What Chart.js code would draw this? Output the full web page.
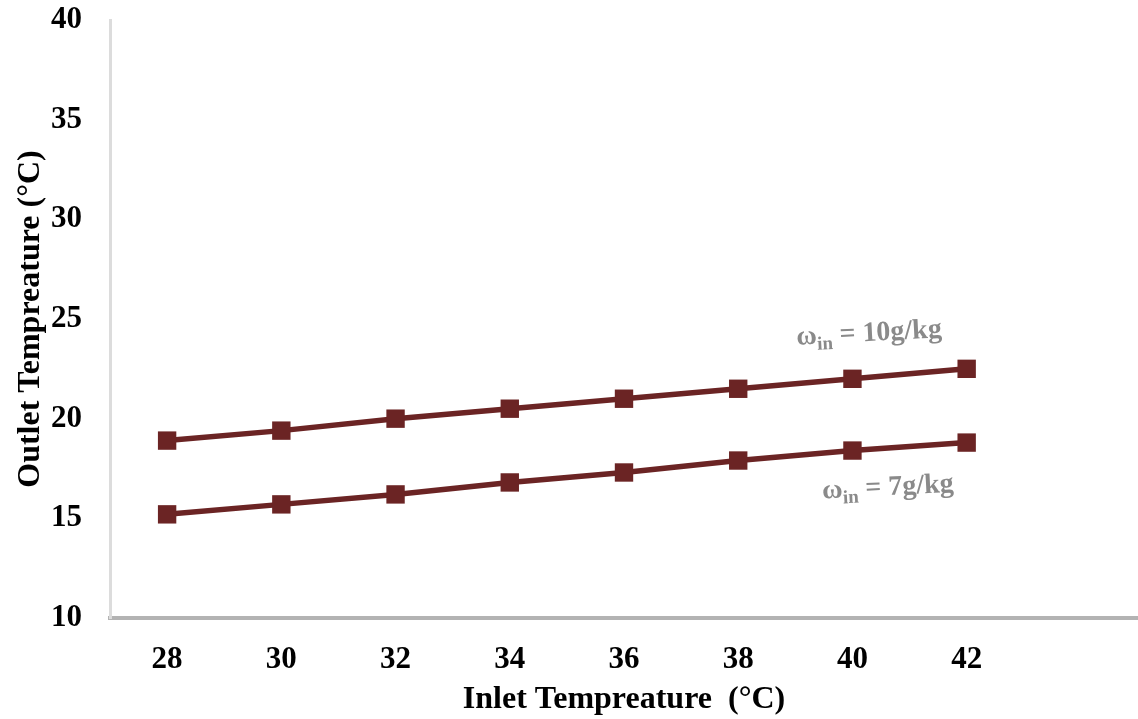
<!DOCTYPE html>
<html>
<head>
<meta charset="utf-8">
<script src="https://cdn.jsdelivr.net/npm/chart.js@4"></script>
<style>
html,body{margin:0;padding:0;background:#fff;}
#wrap{width:1138px;height:719px;position:relative;}
</style>
</head>
<body>
<div id="wrap"><canvas id="c" width="1138" height="719"></canvas></div>
<script>
const inletTemps = [28, 30, 32, 34, 36, 38, 40, 42];
const outlet10 = [18.9, 19.4, 20.0, 20.5, 21.0, 21.5, 22.0, 22.5];
const outlet7 = [15.2, 15.7, 16.2, 16.8, 17.3, 17.9, 18.4, 18.8];
const yTicks = [10, 15, 20, 25, 30, 35, 40];
const seriesLabels = ['10g/kg', '7g/kg'];

const FONT = '"Liberation Serif", "Times New Roman", serif';
const LINE_COLOR = '#6b2424';

const labelPlugin = {
  id: 'seriesLabels',
  afterDatasetsDraw(chart) {
    const ctx = chart.ctx;
    const xs = chart.scales.x, ys = chart.scales.y;
    const items = [
      {text: seriesLabels[0], x: xs.getPixelForValue(40.29), y: ys.getPixelForValue(24.3)},
      {text: seriesLabels[1], x: xs.getPixelForValue(40.62), y: ys.getPixelForValue(16.57)}
    ];
    ctx.save();
    ctx.fillStyle = '#8a8a8a';
    items.forEach(it => {
      ctx.save();
      ctx.translate(it.x, it.y);
      ctx.rotate(-3 * Math.PI / 180);
      const big = 'bold 28px ' + FONT, small = 'bold 19px ' + FONT;
      ctx.font = big; const wOmega = ctx.measureText('ω').width;
      ctx.font = small; const wIn = ctx.measureText('in').width;
      ctx.font = big; const wRest = ctx.measureText(' = ' + it.text).width;
      const total = wOmega + wIn + wRest;
      let x0 = -total / 2;
      ctx.textBaseline = 'alphabetic';
      ctx.textAlign = 'left';
      ctx.font = big; ctx.fillText('ω', x0, 8); x0 += wOmega;
      ctx.font = small; ctx.fillText('in', x0, 14); x0 += wIn;
      ctx.font = big; ctx.fillText(' = ' + it.text, x0, 8);
      ctx.restore();
    });
    ctx.restore();
  }
};

new Chart(document.getElementById('c'), {
  type: 'line',
  data: {
    datasets: [
      {
        label: 'ω_in = ' + seriesLabels[0],
        data: inletTemps.map((x, i) => ({x: x, y: outlet10[i]})),
        borderColor: LINE_COLOR, backgroundColor: LINE_COLOR,
        borderWidth: 5.5, pointStyle: 'rect', pointRadius: 13, pointHoverRadius: 13,
        pointBorderWidth: 0, tension: 0
      },
      {
        label: 'ω_in = ' + seriesLabels[1],
        data: inletTemps.map((x, i) => ({x: x, y: outlet7[i]})),
        borderColor: LINE_COLOR, backgroundColor: LINE_COLOR,
        borderWidth: 5.5, pointStyle: 'rect', pointRadius: 13, pointHoverRadius: 13,
        pointBorderWidth: 0, tension: 0
      }
    ]
  },
  options: {
    responsive: false,
    animation: false,
    layout: {autoPadding: false, padding: {top: 0, right: 0, left: 0, bottom: 0}},
    plugins: {legend: {display: false}, tooltip: {enabled: false}},
    scales: {
      x: {
        type: 'linear', min: 27, max: 45,
        afterBuildTicks: (ax) => { ax.ticks = inletTemps.map(v => ({value: v})); },
        afterFit: (ax) => { ax.height = 101; ax.paddingRight = 0; },
        grid: {display: false},
        border: {display: true, color: '#b3b3b3', width: 4},
        ticks: {color: '#000', font: {family: FONT, size: 31, weight: 'bold'}, padding: 15, maxRotation: 0},
        title: {display: true, text: 'Inlet Tempreature  (°C)', color: '#000', font: {family: FONT, size: 32, weight: 'bold'}, padding: {top: 4, bottom: 0}}
      },
      y: {
        type: 'linear', min: 10, max: 40,
        afterBuildTicks: (ax) => { ax.ticks = yTicks.map(v => ({value: v})); },
        afterFit: (ax) => { ax.width = 110; ax.paddingTop = 20; ax.paddingBottom = 0; },
        grid: {display: false},
        border: {display: true, color: '#dcdcdc', width: 3},
        ticks: {color: '#000', font: {family: FONT, size: 31, weight: 'bold'}, padding: 20},
        title: {display: true, text: 'Outlet Tempreature (°C)', color: '#000', font: {family: FONT, size: 32, weight: 'bold'}, padding: {top: 12, bottom: 0}}
      }
    }
  },
  plugins: [labelPlugin]
});
</script>
</body>
</html>
